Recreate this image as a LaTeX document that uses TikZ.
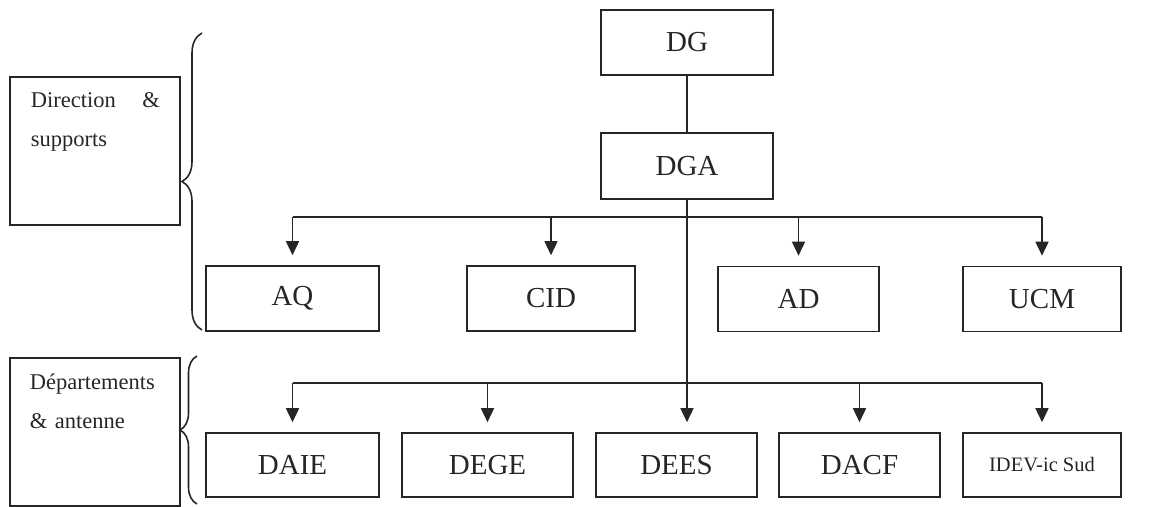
\documentclass[tikz,border=0pt]{standalone}
\usepackage{fontspec}
\setmainfont{Liberation Serif}
\usetikzlibrary{arrows.meta,decorations.pathreplacing}

\begin{document}
\begin{tikzpicture}[x=1pt, y=-1pt, line width=1.6pt, color=black!85,
  unit/.style={draw, inner sep=0pt, minimum height=65pt, font=\fontsize{29}{34}\selectfont},
  group/.style={draw, inner sep=0pt, minimum width=170pt, minimum height=148pt, anchor=north west},
  grouptext/.style={anchor=north west, inner sep=0pt, text width=129pt, align=left, font=\fontsize{22.5}{39}\selectfont},
  link/.style={-{Triangle[width=13pt,length=14pt]}, shorten >=10pt},
  groupbrace/.style={decorate, decoration={brace, amplitude=#1}},
  ]
  \useasboundingbox (0,0) rectangle (1159,506);

  %%% direction %%%
  \node[unit, minimum width=172pt] (dg) at (687,42.5) {DG};
  \node[unit, minimum width=172pt, minimum height=66pt] (dga) at (687,166) {DGA};

  %%% supports row %%%
  \node[unit, minimum width=173pt] (aq)  at (292.5,298.5) {AQ};
  \node[unit, minimum width=168pt] (cid) at (551,298.5)   {CID};
  \node[unit, minimum width=161pt] (ad)  at (798.5,299)   {AD};
  \node[unit, minimum width=158pt] (ucm) at (1042,299)    {UCM};

  %%% departments row %%%
  \node[unit, minimum width=173pt, minimum height=64pt] (daie) at (292.5,465) {DAIE};
  \node[unit, minimum width=171pt, minimum height=64pt] (dege) at (487.5,465) {DEGE};
  \node[unit, minimum width=161pt, minimum height=64pt] (dees) at (676.5,465) {DEES};
  \node[unit, minimum width=161pt, minimum height=64pt] (dacf) at (859.5,465) {DACF};
  \node[unit, minimum width=158pt, minimum height=64pt, font=\fontsize{20.5}{24}\selectfont] (idev) at (1042,465) {IDEV-ic Sud};

  %%% bus lines %%%
  \coordinate (upbar)  at (0,217);
  \coordinate (lowbar) at (0,383);

  \draw (dg) -- (dga);
  \draw[link] (dga.south) -- (dga.south |- dees.north);
  \draw (aq.north |- upbar) -- (ucm.north |- upbar);
  \foreach \n in {aq,cid,ad,ucm}
    \draw[link] (\n.north |- upbar) -- (\n.north);
  \draw (daie.north |- lowbar) -- (idev.north |- lowbar);
  \foreach \n in {daie,dege,dacf,idev}
    \draw[link] (\n.north |- lowbar) -- (\n.north);

  %%% left-hand group labels %%%
  \node[group] (dirbox) at (9,76) {};
  \node[grouptext] (dirtext) at (30,91.5) {Direction\hfill\&\\supports};
  \node[group] (depbox) at (9,357) {};
  \node[grouptext] (deptext) at (29,373.5) {Départements\\\& antenne};

  \draw[groupbrace=20pt] (202,330) -- (202,33);
  \draw[groupbrace=17pt] (197,504) -- (197,356);
\end{tikzpicture}
\end{document}
